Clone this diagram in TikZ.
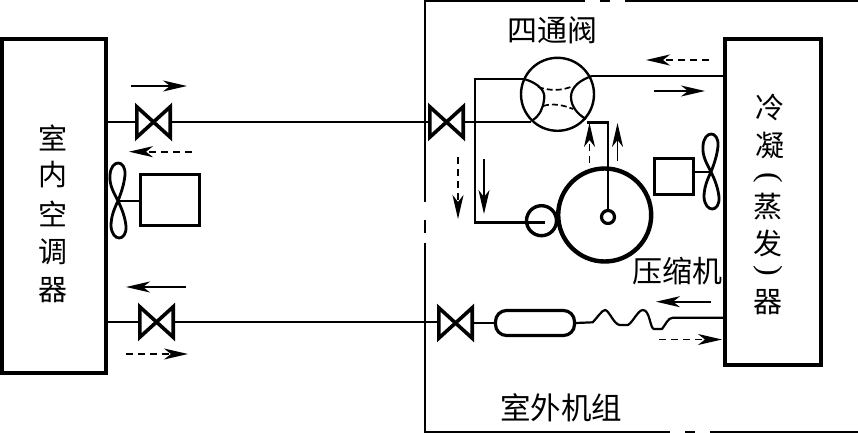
\documentclass[tikz,border=0pt]{standalone}
\usepackage{fontspec}
\setmainfont{Noto Sans CJK SC}
\newfontfamily\parenfont{Liberation Serif}
\usetikzlibrary{arrows.meta}
\tikzset{
  pipe/.style={line width=2.2pt,line join=miter},
  thick box/.style={draw,line width=3.6pt,rectangle,inner sep=0pt},
  fanbox/.style={draw,line width=3.2pt,rectangle,inner sep=0pt,minimum width=39pt,minimum height=36pt},
  ring/.style={draw,circle,inner sep=0pt},
  flow/.style={line width=1.9pt,-{Stealth[length=24pt,width=11pt,inset=7pt]}},
  flowd/.style={flow,dash pattern=on 7pt off 5pt},
  lab/.style={inner sep=0pt,font=\fontsize{30}{30}\selectfont},
  lab2/.style={inner sep=0pt,font=\fontsize{29}{29}\selectfont},
  labp/.style={inner sep=0pt,font=\parenfont\fontsize{32}{32}\selectfont},
  bow/.style={draw,line width=3.6pt,line join=miter}
}
\newcommand{\valve}[2]{%
  \node[minimum width=33pt,minimum height=30pt,inner sep=0pt] (#1) at (#2) {};
  \draw[bow] (#1.north west)--(#1.south east)--(#1.north east)--(#1.south west)--cycle;}
\newcommand{\fan}[2]{%
  \coordinate (#1) at (#2);
  \begin{scope}[shift={(#2)}]
  \draw[line width=2.8pt] (0,0) .. controls (-4,-8) and (-9,-16) .. (-8,-26)
     .. controls (-7,-42) and (8,-42) .. (7,-26)
     .. controls (6,-16) and (3,-8) .. (0,0)
     .. controls (-4,8) and (-7,16) .. (-7,25)
     .. controls (-6,41) and (9,41) .. (8,25)
     .. controls (7,16) and (4,8) .. (0,0);
  \end{scope}}
\begin{document}
\begin{tikzpicture}[x=1pt,y=-1pt]
\useasboundingbox (0,0) rectangle (858,433);
\fill[white] (0,0) rectangle (858,433);
% frame
\draw[line width=2.2pt] (425,202)--(425,1)--(495,1) (495,1)--(585,1) (600,1)--(610,1) (625,1)--(858,1);
\draw[line width=2.2pt] (425,220)--(425,233) (425,243)--(425,432)--(670,432) (685,432)--(695,432) (710,432)--(858,432);
% boxes
\node[thick box,minimum width=104pt,minimum height=334pt] (indoor) at (54,206) {};
\node[thick box,minimum width=96pt,minimum height=326pt] (cond) at (773,202) {};
% valves
\valve{v1}{153.5,122}
\valve{v2}{156.5,322}
\valve{v3}{446.5,122}
\valve{v4}{455.5,323}
% four-way valve
\node[ring,line width=2.4pt,minimum size=73pt] (fw) at (557.5,94.3) {};
\coordinate (fwL1) at (525,79.3);
\coordinate (fwL2) at (531,122);
\coordinate (fwR1) at (592,76);
\coordinate (fwR2) at (587,122.5);
\draw[pipe] (fwL1) .. controls (540,84) and (546,92) .. (544,100) .. controls (543,108) and (540,115) .. (533,120);
\draw[pipe] (fwR1) .. controls (580,80) and (571,87) .. (571,97) .. controls (571,106) and (577,114) .. (586,119);
\draw[line width=1.7pt,dash pattern=on 6pt off 3pt] (538,87) .. controls (550,91) and (562,91) .. (573,86);
\draw[line width=1.7pt,dash pattern=on 6pt off 3pt] (543,106) .. controls (553,103) and (563,105) .. (573,109);
% compressor
\node[ring,line width=4.4pt,minimum size=93pt] (comp) at (604.7,215) {};
\node[ring,line width=3.2pt,minimum size=13pt] (shaft) at (608,217) {};
\node[ring,line width=3.4pt,minimum size=30pt] (acc) at (541.5,220.7) {};
% receiver
\node[draw,line width=3.2pt,rectangle,rounded corners=11pt,minimum width=79pt,minimum height=25pt,inner sep=0pt] (recv) at (535,323) {};
% fans
\node[fanbox] (fbR) at (673.7,176.5) {};
\fan{fanR}{711,172}
\draw[pipe] (fbR.east |- fanR) -- (fanR);
\node[draw,line width=3.2pt,rectangle,inner sep=0pt,minimum width=59pt,minimum height=51pt] (fbL) at (169.7,200.2) {};
\fan{fanL}{118,201}
\draw[pipe] (fbL.west |- fanL) -- (fanL);
% pipes
\draw[pipe] (indoor.east |- v1) -- (v1.west);
\draw[pipe] (v1.east) -- (v3.west);
\draw[pipe] (v3.east) -- (fwL2);
\draw[pipe] (indoor.east |- v2) -- (v2.west);
\draw[pipe] (v2.east) -- (v4.west |- v2);
\draw[pipe] (v4.east) -- (recv.west |- v4);
\draw[pipe] (fwR1) -- (cond.west |- fwR1);
\coordinate (pL) at (475,79.3);
\coordinate (pB) at (475,222.5);
\draw[pipe] (fwL1) -- (pL) -- (pB) -- (545,222.5);
\draw[pipe] (fwR2) -- (608,122.5) -- (shaft.north);
\draw[pipe,line join=round] (recv.east |- v4) -- (592.7,322.3) .. controls (597,318) and (602,310) .. (605,310)
  .. controls (609,310) and (614,325) .. (620,325) -- (628,325)
  .. controls (633,322) and (638,310) .. (643,310)
  .. controls (650,310) and (650,329) .. (654,329) -- (662,329)
  .. controls (666,324) and (668,317.7) .. (673,317.7) -- (cond.west |- 0,317.7);
% flow arrows
\coordinate (a1s) at (131,86); \coordinate (a1e) at (187,86);
\draw[flow] (a1s)--(a1e);
\coordinate (a2s) at (191.5,151.7); \coordinate (a2e) at (129,151.7);
\draw[flowd] (a2s)--(a2e);
\coordinate (a3s) at (186,287); \coordinate (a3e) at (126,287);
\draw[flow] (a3s)--(a3e);
\coordinate (a4s) at (126,354); \coordinate (a4e) at (188,354);
\draw[flowd] (a4s)--(a4e);
\coordinate (a5s) at (709,60); \coordinate (a5e) at (646,60);
\draw[flowd] (a5s)--(a5e);
\coordinate (a6s) at (654,91); \coordinate (a6e) at (705,91);
\draw[flow] (a6s)--(a6e);
\coordinate (a7s) at (458,157); \coordinate (a7e) at (458,219);
\draw[flowd] (a7s)--(a7e);
\coordinate (a8s) at (484,159); \coordinate (a8e) at (484,214);
\draw[flow] (a8s)--(a8e);
\coordinate (a9s) at (589.5,163); \coordinate (a9e) at (589.5,123);
\draw[flowd] (a9s)--(a9e);
\coordinate (a10s) at (617.5,161); \coordinate (a10e) at (617.5,123);
\draw[flow] (a10s)--(a10e);
\coordinate (a11s) at (711,301.7); \coordinate (a11e) at (656,301.7);
\draw[flow] (a11s)--(a11e);
\coordinate (a12s) at (659,339.5); \coordinate (a12e) at (722,339.5);
\draw[flowd] (a12s)--(a12e);
% labels
\node[lab] (t1) at (552,30) {四通阀};
\node[lab] (t2) at (677,271) {压缩机};
\node[lab,font=\fontsize{30.5}{30.5}\selectfont] (t3) at (561,408) {室外机组};
\node[lab2] (l1) at (53,138) {室};
\node[lab2] (l2) at (53,175) {内};
\node[lab2] (l3) at (53,214) {空};
\node[lab2] (l4) at (53,252) {调};
\node[lab2] (l5) at (53,290) {器};
\node[lab2] (r1) at (770,107) {冷};
\node[lab2] (r2) at (770,145) {凝};
\node[labp,rotate=-90] (r3) at (768,178) {(};
\node[lab2] (r4) at (768,207) {蒸};
\node[lab2] (r5) at (768,243) {发};
\node[labp,rotate=-90] (r6) at (768,271) {)};
\node[lab2] (r7) at (768,302) {器};
\end{tikzpicture}
\end{document}
